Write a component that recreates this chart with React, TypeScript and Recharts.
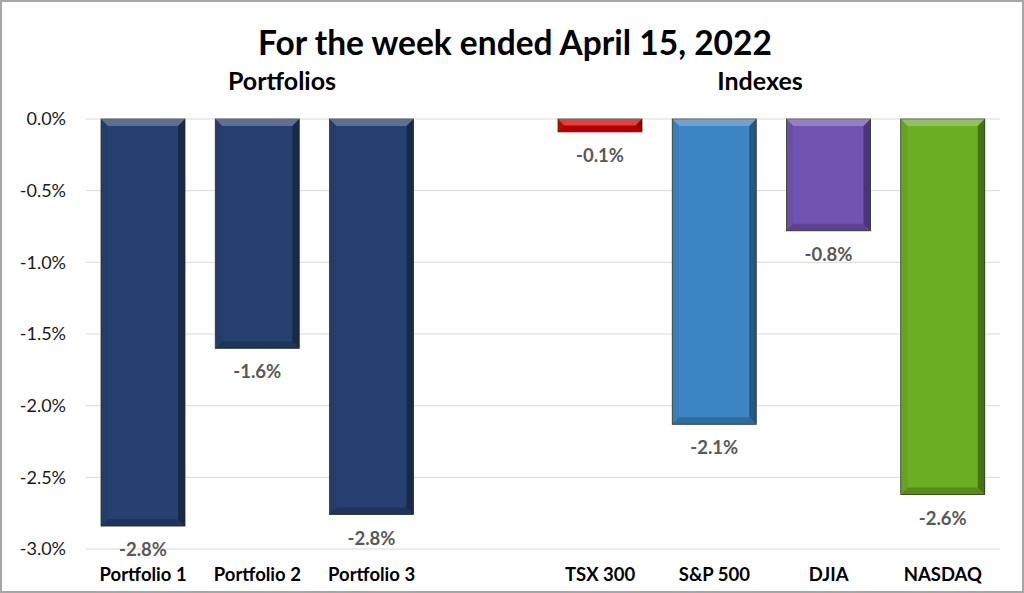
import React from "react";
import { BarChart, Bar, XAxis, YAxis, CartesianGrid, Cell, LabelList } from "recharts";

// weekly returns, in percent
const categories = ["Portfolio 1", "Portfolio 2", "Portfolio 3", "", "TSX 300", "S&P 500", "DJIA", "NASDAQ"];
const returns: (number | null)[] = [-2.84, -1.6, -2.76, null, -0.09, -2.13, -0.78, -2.62];
const yTicks = [0, -0.5, -1, -1.5, -2, -2.5, -3];
const barColors = ["#26416F", "#26416F", "#26416F", "#ffffff", "#DC0000", "#3C86C6", "#7153B2", "#6CAE23"];

const data = categories.map((name, i) => ({ name, value: returns[i] }));

const FONT = "Lato, 'Open Sans', sans-serif";

function BevelBar(props: any) {
  const { x, y, width, height, fill } = props;
  if (x == null || y == null || !width || !height) return null;
  const t = Math.min(y, y + height);
  const h = Math.abs(height);
  const l = x;
  const r = x + width;
  const bt = t + h;
  const b = Math.min(7, h / 2, width / 2);
  return (
    <g>
      <rect x={l} y={t} width={width} height={h} fill={fill} stroke="#2b3a1c" strokeWidth={0.8} />
      <polygon points={`${l},${t} ${r},${t} ${r - b},${t + b} ${l + b},${t + b}`} fill="#ffffff" fillOpacity={0.25} />
      <polygon points={`${l},${t} ${l + b},${t + b} ${l + b},${bt - b} ${l},${bt}`} fill="#000000" fillOpacity={0.06} />
      <polygon points={`${r},${t} ${r},${bt} ${r - b},${bt - b} ${r - b},${t + b}`} fill="#000000" fillOpacity={0.35} />
      <polygon points={`${l},${bt} ${r},${bt} ${r - b},${bt - b} ${l + b},${bt - b}`} fill="#000000" fillOpacity={0.2} />
    </g>
  );
}

function ValueLabel(props: any) {
  const { x, y, width, height, value } = props;
  if (value == null) return null;
  const bottom = Math.max(y, y + height);
  return (
    <text
      x={x + width / 2}
      y={bottom + 23}
      textAnchor="middle"
      dominantBaseline="central"
      fontFamily={FONT}
      fontWeight={700}
      fontSize={18.5}
      fill="#595959"
    >
      {`${Number(value).toFixed(1)}%`}
    </text>
  );
}

export default function App() {
  return (
    <div style={{ position: "absolute", left: 0, top: 0, width: 1024, height: 593, background: "#fff", fontFamily: FONT }}>
      <BarChart width={1024} height={593} data={data} margin={{ top: 119, right: 24, left: 0, bottom: 0 }}>
        <CartesianGrid vertical={false} stroke="#d9d9d9" />
        <XAxis
          dataKey="name"
          axisLine={false}
          tickLine={false}
          interval={0}
          height={44}
          tickMargin={13}
          tick={{ fill: "#000", fontSize: 18.5, fontWeight: 700, fontFamily: FONT }}
        />
        <YAxis
          type="number"
          domain={[-3, 0]}
          ticks={yTicks}
          width={86}
          axisLine={false}
          tickLine={false}
          tickMargin={14}
          tickFormatter={(v: number) => `${v.toFixed(1)}%`}
          tick={{ fill: "#1a1a1a", fontSize: 18, fontFamily: FONT }}
        />
        <Bar dataKey="value" barSize={84} shape={<BevelBar />} isAnimationActive={false}>
          {data.map((d, i) => (
            <Cell key={d.name + i} fill={barColors[i]} />
          ))}
          <LabelList dataKey="value" content={<ValueLabel />} />
        </Bar>
      </BarChart>
      <div style={{ position: "absolute", left: 0, top: 21, width: 1030, textAlign: "center", fontSize: 33.5, fontWeight: 700, color: "#000", lineHeight: "42px" }}>
        For the week ended April 15, 2022
      </div>
      <div style={{ position: "absolute", left: 182, top: 65, width: 200, textAlign: "center", fontSize: 25, fontWeight: 700, color: "#000", lineHeight: "30px" }}>
        Portfolios
      </div>
      <div style={{ position: "absolute", left: 660, top: 65, width: 200, textAlign: "center", fontSize: 25, fontWeight: 700, color: "#000", lineHeight: "30px" }}>
        Indexes
      </div>
      <div style={{ position: "absolute", left: 0, top: 0, width: 1024, height: 593, boxSizing: "border-box", border: "2px solid #a6a6a6", pointerEvents: "none" }} />
    </div>
  );
}
